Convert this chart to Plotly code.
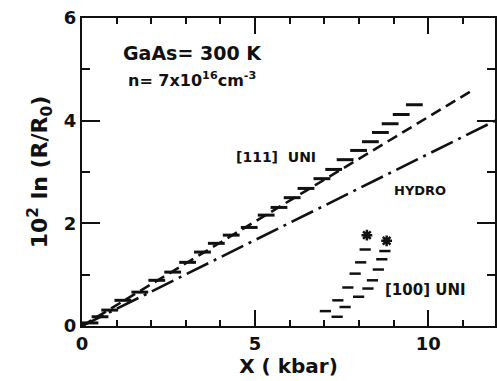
import plotly.graph_objects as go

# [111] uniaxial data (dash markers)
x111 = [0.23, 0.52, 0.80, 1.18, 1.67, 2.16, 2.62, 3.05, 3.48, 3.88, 4.31, 4.83,
        5.32, 5.69, 6.07, 6.47, 6.93, 7.27, 7.60, 7.99, 8.33, 8.62, 8.90, 9.22, 9.60]
y111 = [0.06, 0.18, 0.31, 0.50, 0.66, 0.89, 1.05, 1.24, 1.44, 1.61, 1.77, 1.92,
        2.16, 2.31, 2.50, 2.68, 2.87, 3.05, 3.24, 3.42, 3.59, 3.77, 3.94, 4.12, 4.31]

# [111] fit line (dashed)
x111_fit = [0.0, 11.25]
y111_fit = [0.0, 4.58]

# Hydrostatic line (dash-dot)
x_hydro = [0.0, 12.0]
y_hydro = [0.0, 4.02]

# [100] uniaxial, two runs
x100a = [7.03, 7.39, 7.68, 7.89, 8.05, 8.18]
y100a = [0.29, 0.50, 0.75, 1.02, 1.24, 1.49]
x100a_end = [8.23]
y100a_end = [1.77]
x100b = [7.37, 7.60, 7.99, 8.26, 8.39, 8.56, 8.66, 8.75]
y100b = [0.18, 0.37, 0.57, 0.73, 0.89, 1.10, 1.30, 1.46]
x100b_end = [8.80]
y100b_end = [1.66]

X_RANGE = [0, 11.93]
Y_RANGE = [0, 6]

FONT = "DejaVu Sans"
BLACK = "#111111"

fig = go.Figure()
fig.add_trace(go.Scatter(x=x111_fit, y=y111_fit, mode="lines",
                         line=dict(color=BLACK, width=2.6, dash="11px,6px")))
fig.add_trace(go.Scatter(x=x_hydro, y=y_hydro, mode="lines",
                         line=dict(color=BLACK, width=2.6, dash="24px,6px,3px,6px")))
fig.add_trace(go.Scatter(x=x111, y=y111, mode="markers",
                         marker=dict(symbol="line-ew-open", size=12, color=BLACK,
                                     line=dict(color=BLACK, width=3))))
for xs, ys in [(x100a, y100a), (x100b, y100b)]:
    fig.add_trace(go.Scatter(x=xs, y=ys, mode="markers",
                             marker=dict(symbol="line-ew-open", size=8, color=BLACK,
                                         line=dict(color=BLACK, width=2.5))))
for xs, ys in [(x100a_end, y100a_end), (x100b_end, y100b_end)]:
    fig.add_trace(go.Scatter(x=xs, y=ys, mode="markers",
                             marker=dict(symbol="asterisk-open", size=9, color=BLACK,
                                         line=dict(color=BLACK, width=2.5))))
# invisible trace anchoring the minor-tick overlay axes
fig.add_trace(go.Scatter(x=x_hydro, y=y_hydro, mode="lines", xaxis="x2", yaxis="y2",
                         line=dict(width=0, color="white"), opacity=0, hoverinfo="skip"))

ann_font = dict(family=FONT, color=BLACK)
fig.add_annotation(x=1.12, y=5.32, text="<b>GaAs= 300 K</b>", showarrow=False,
                   xanchor="left", font=dict(size=19, **ann_font))
fig.add_annotation(x=1.28, y=4.8, text="<b>n= 7x10<sup>16</sup>cm<sup>-3</sup></b>",
                   showarrow=False, xanchor="left", font=dict(size=16, **ann_font))
fig.add_annotation(x=4.4, y=3.3, text="<b>[111]  UNI</b>", showarrow=False,
                   xanchor="left", font=dict(size=14, **ann_font))
fig.add_annotation(x=8.95, y=2.64, text="<b>HYDRO</b>", showarrow=False,
                   xanchor="left", font=dict(size=13, **ann_font))
fig.add_annotation(x=8.7, y=0.7, text="<b>[100] UNI</b>", showarrow=False,
                   xanchor="left", font=dict(size=15, **ann_font))

tickfont = dict(family=FONT, size=18, color=BLACK)

fig.update_layout(
    width=497, height=381, margin=dict(l=82, r=0, t=18, b=55),
    paper_bgcolor="white", plot_bgcolor="white", showlegend=False,
    xaxis=dict(range=X_RANGE, dtick=5, ticks="inside", ticklen=16, tickwidth=2,
               tickcolor=BLACK, showline=True, linecolor=BLACK, linewidth=2,
               mirror="allticks", showgrid=False, zeroline=False,
               tickprefix="<b>", ticksuffix="</b>", tickfont=tickfont,
               title=dict(text="<b>X ( kbar)</b>", standoff=2,
                          font=dict(family=FONT, size=20, color=BLACK))),
    yaxis=dict(range=Y_RANGE, dtick=2, ticks="inside", ticklen=18, tickwidth=2,
               tickcolor=BLACK, showline=True, linecolor=BLACK, linewidth=2,
               mirror="allticks", showgrid=False, zeroline=False,
               tickprefix="<b>", ticksuffix="</b>", tickfont=tickfont,
               title=dict(text="<b>10<sup>2</sup> ln (R/R<sub>0</sub>)</b>", standoff=10,
                          font=dict(family=FONT, size=22, color=BLACK))),
    xaxis2=dict(range=X_RANGE, dtick=1, ticks="inside", ticklen=6, tickwidth=2,
                tickcolor=BLACK, showline=False, mirror="allticks", showgrid=False,
                zeroline=False, showticklabels=False, overlaying="x", anchor="y2",
                side="bottom"),
    yaxis2=dict(range=Y_RANGE, dtick=1, ticks="inside", ticklen=8, tickwidth=2,
                tickcolor=BLACK, showline=False, mirror="allticks", showgrid=False,
                zeroline=False, showticklabels=False, overlaying="y", anchor="x2",
                side="left"),
)

fig.write_html("out.html")
